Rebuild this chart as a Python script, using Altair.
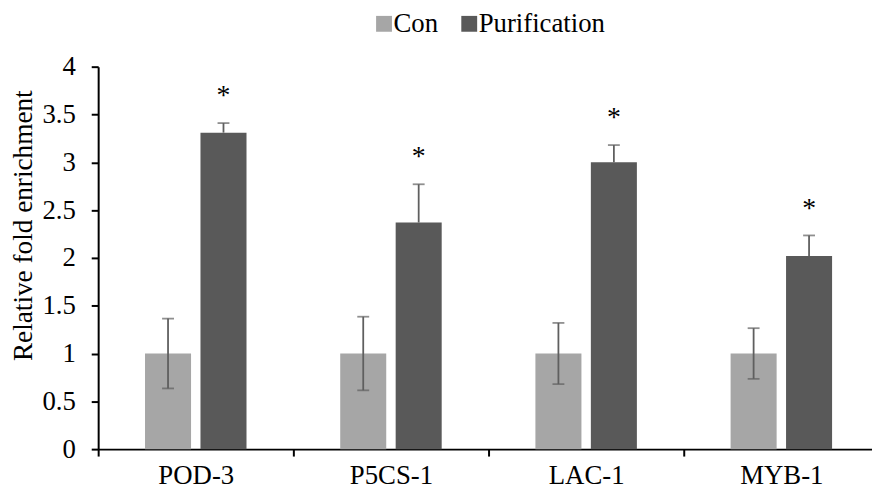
import altair as alt
import pandas as pd

genes = ["POD-3", "P5CS-1", "LAC-1", "MYB-1"]
groups = ["Con", "Purification"]
con_mean = [1.00, 1.00, 1.00, 1.00]
con_err = [0.365, 0.385, 0.32, 0.265]
pur_mean = [3.31, 2.37, 3.00, 2.02]
pur_err = [0.10, 0.40, 0.18, 0.215]
stars = ["*", "*", "*", "*"]
colors = ["#A6A6A6", "#595959"]
y_ticks = [0, 0.5, 1, 1.5, 2, 2.5, 3, 3.5, 4]

rows = []
for i, g in enumerate(genes):
    rows.append(dict(gene=g, group="Con", value=con_mean[i],
                     lo=con_mean[i] - con_err[i], hi=con_mean[i] + con_err[i], star=""))
    rows.append(dict(gene=g, group="Purification", value=pur_mean[i],
                     lo=pur_mean[i], hi=pur_mean[i] + pur_err[i], star=stars[i]))
df = pd.DataFrame(rows)

FONT = "Liberation Serif"
TITLE = "Relative fold enrichment"

x = alt.X("gene:N", sort=genes, title=None,
          scale=alt.Scale(range=[0, 788], paddingInner=0, paddingOuter=0),
          axis=alt.Axis(tickBand="extent", labelAngle=0, labelFont=FONT,
                        labelFontSize=27, labelColor="black", labelPadding=7,
                        domainColor="black", domainWidth=2, tickColor="black",
                        tickWidth=2, tickSize=7, grid=False))
xo = alt.XOffset("group:N", sort=groups,
                 scale=alt.Scale(paddingInner=0.17, paddingOuter=0.845))

y_axis = alt.Axis(values=y_ticks, format="~g", title=TITLE,
                  titleFont=FONT, titleFontSize=27.5, titleFontWeight="normal",
                  titleColor="black", titlePadding=5, titleY=160,
                  labelFont=FONT, labelFontSize=27, labelColor="black",
                  labelPadding=16, domainColor="black", domainWidth=2,
                  tickColor="black", tickWidth=2, tickSize=7, grid=False)
y_scale = alt.Scale(domain=[0, 4], nice=False)

base = alt.Chart(df)

bars = base.mark_bar().encode(
    x=x, xOffset=xo,
    y=alt.Y("value:Q", scale=y_scale, axis=y_axis),
    color=alt.Color("group:N", sort=groups,
                    scale=alt.Scale(domain=groups, range=colors),
                    legend=alt.Legend(title=None, orient="none", direction="horizontal",
                                      legendX=275, legendY=-57,
                                      symbolType="square", symbolSize=256,
                                      symbolStrokeWidth=0, labelFont=FONT,
                                      labelFontSize=27, labelColor="black",
                                      labelOffset={"expr": "-4"}, columnPadding=17,
                                      padding=0)),
)

err = base.mark_rule(color="#5f5f5f", strokeWidth=1.8).encode(
    x=x, xOffset=xo,
    y=alt.Y("lo:Q", scale=y_scale, axis=y_axis), y2="hi:Q",
)

cap_hi = base.mark_tick(color="#5f5f5f", thickness=1.8, size=12).encode(
    x=x, xOffset=xo, y=alt.Y("hi:Q", scale=y_scale, axis=y_axis),
)

cap_lo = base.transform_filter(alt.datum.group == "Con").mark_tick(
    color="#5f5f5f", thickness=1.8, size=12).encode(
    x=x, xOffset=xo, y=alt.Y("lo:Q", scale=y_scale, axis=y_axis),
)

star_txt = base.transform_filter(alt.datum.star != "").mark_text(
    font=FONT, fontSize=28, color="black", baseline="alphabetic", dy=-19).encode(
    x=x, xOffset=xo, y=alt.Y("hi:Q", scale=y_scale, axis=y_axis), text="star:N",
)

chart = alt.layer(bars, err, cap_hi, cap_lo, star_txt).properties(
    width=781, height=386,
    background="white",
    autosize=alt.AutoSizeParams(type="none"),
    padding={"left": 91, "top": 57, "right": 0, "bottom": 36},
).configure_view(strokeWidth=0, stroke="transparent")

chart.save("out.html", embed_options={"renderer": "svg", "actions": False})
